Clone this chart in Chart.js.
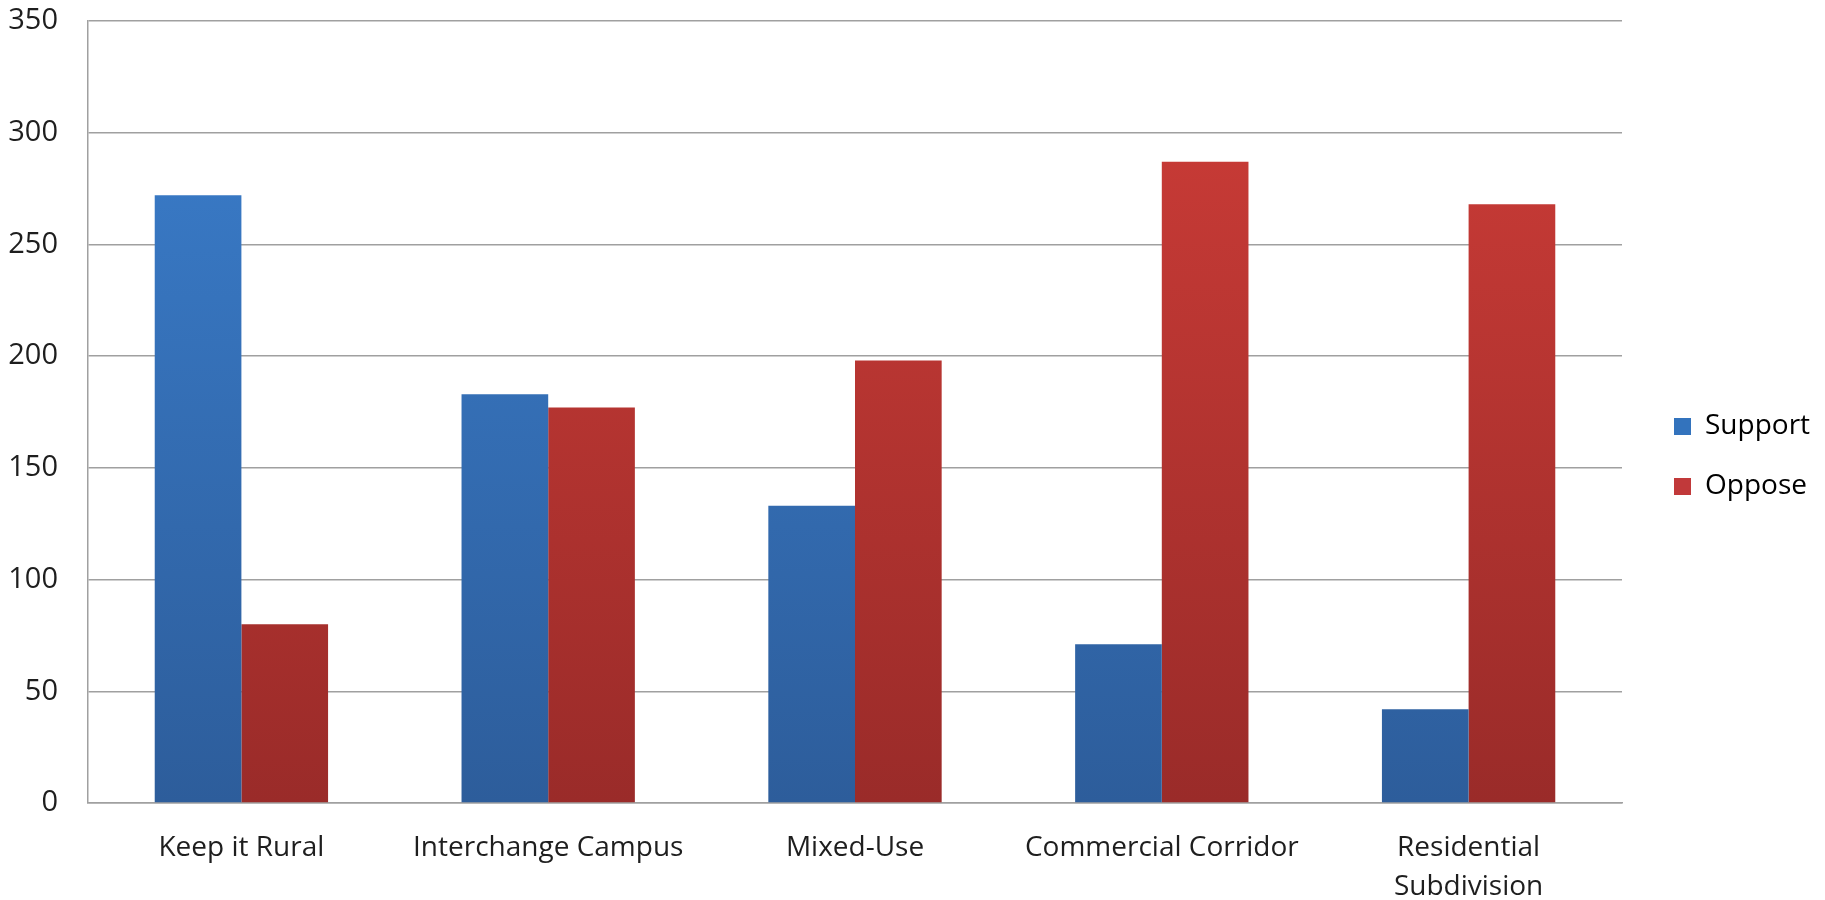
<!DOCTYPE html>
<html>
<head>
<meta charset="utf-8">
<script src="https://cdn.jsdelivr.net/npm/chart.js@4.4.0/dist/chart.umd.min.js"></script>
<style>
  html, body { margin: 0; padding: 0; background: #fff; }
  #wrap { width: 1825px; height: 900px; }
</style>
</head>
<body>
<div id="wrap"><canvas id="chart" width="1825" height="900"></canvas></div>
<script>
const categories = ['Keep it Rural', 'Interchange Campus', 'Mixed-Use', 'Commercial Corridor', ['Residential', 'Subdivision']];
const support = [272, 183, 133, 71, 42];
const oppose = [80, 177, 198, 287, 268];
const yTicks = [0, 50, 100, 150, 200, 250, 300, 350];

const FONT = '"Open Sans", "DejaVu Sans", sans-serif';

// vertical gradient over the plot area, like the office-style bars
const gradient = (top, bottom) => (ctx) => {
    const area = ctx.chart.chartArea;
    if (!area) return top;
    const g = ctx.chart.ctx.createLinearGradient(0, area.top, 0, area.bottom);
    g.addColorStop(0, top);
    g.addColorStop(1, bottom);
    return g;
};

const ctx = document.getElementById('chart').getContext('2d');
const chart = new Chart(ctx, {
    type: 'bar',
    data: {
        labels: categories,
        datasets: [{
            label: 'Support',
            data: support,
            backgroundColor: gradient('#3b7fce', '#2d5d9b'),
            borderWidth: 0,
        }, {
            label: 'Oppose',
            data: oppose,
            backgroundColor: gradient('#cf3d38', '#9a2b29'),
            borderWidth: 0,
        }]
    },
    options: {
        responsive: false,
        animation: false,
        layout: { padding: { top: 21, left: 0, right: 0, bottom: 0 } },
        datasets: { bar: { categoryPercentage: 0.565, barPercentage: 1.0 } },
        plugins: {
            tooltip: { enabled: false },
            legend: {
                position: 'right',
                labels: {
                    boxWidth: 17,
                    boxHeight: 17,
                    padding: 32,
                    color: '#1e1e1e',
                    font: { family: FONT, size: 28 },
                    generateLabels: (c) => c.data.datasets.map((ds, i) => ({
                        text: ds.label,
                        fillStyle: i === 0 ? '#3373bd' : '#c1393a',
                        strokeStyle: 'transparent',
                        lineWidth: 0,
                        datasetIndex: i,
                    })),
                }
            }
        },
        scales: {
            x: {
                grid: { display: false, drawTicks: false },
                border: { color: '#a0a0a0', width: 1.5 },
                ticks: {
                    padding: 25,
                    color: '#1e1e1e',
                    maxRotation: 0,
                    autoSkip: false,
                    font: { family: FONT, size: 28, lineHeight: 1.4 },
                },
                afterFit: (s) => { s.height = 97; s.paddingLeft = 0; s.paddingRight = 0; },
            },
            y: {
                min: 0,
                max: 350,
                afterBuildTicks: (s) => { s.ticks = yTicks.map(v => ({ value: v })); },
                grid: { color: '#a0a0a0', lineWidth: 1.5, drawTicks: false },
                border: { color: '#a0a0a0', width: 1.5 },
                ticks: {
                    padding: 30,
                    color: '#1e1e1e',
                    font: { family: FONT, size: 29 },
                },
                afterFit: (s) => { s.width = 88; s.paddingTop = 0; s.paddingBottom = 0; },
            }
        }
    }
});

// fixed legend column on the right, as in the source chart
const baseFit = chart.legend.fit;
chart.legend.fit = function () { baseFit.call(this); this.width = 203; };
// nudge legend items to where the source chart has them
const baseDraw = chart.legend.draw;
chart.legend.draw = function () {
    this.ctx.save();
    this.ctx.translate(20, -4);
    baseDraw.call(this);
    this.ctx.restore();
};
chart.update();
</script>
</body>
</html>
